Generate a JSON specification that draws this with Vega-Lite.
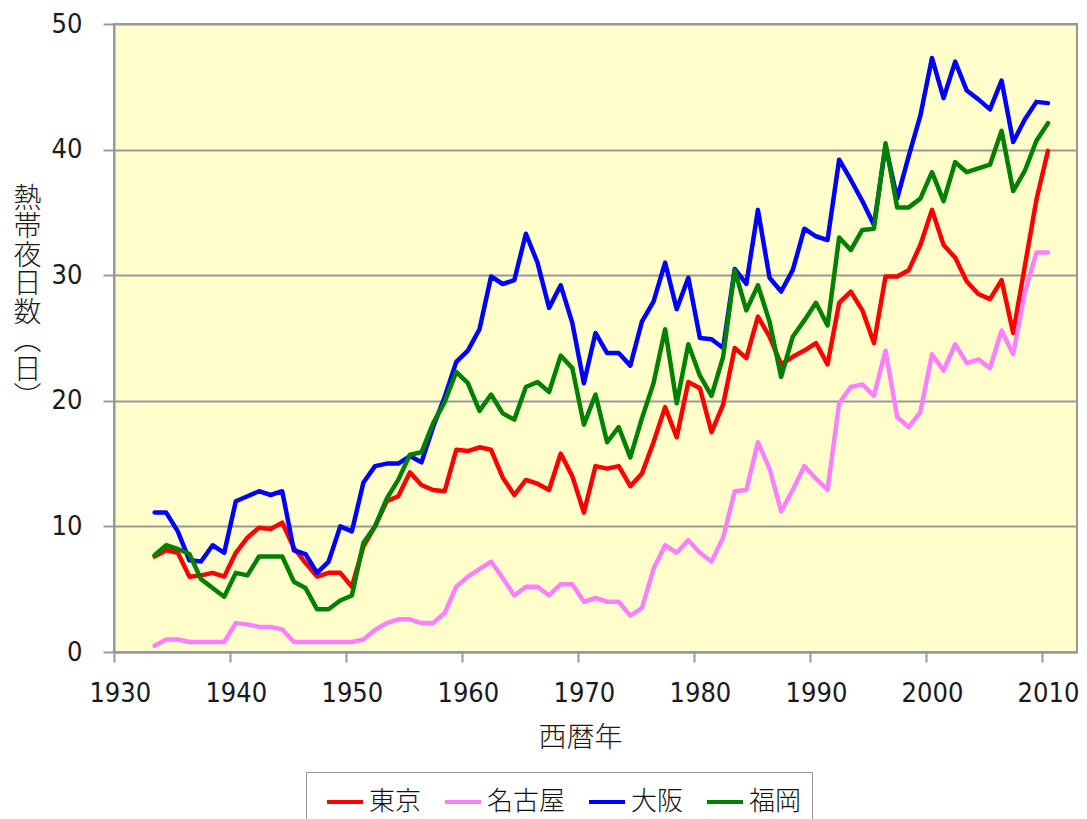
{
  "$schema": "https://vega.github.io/schema/vega-lite/v6.json",
  "width": 963,
  "height": 628,
  "autosize": {"type": "none"},
  "padding": {"left": 114, "top": 24, "right": 10, "bottom": 167},
  "background": "white",
  "data": {
    "values": [
      {"year": 1933, "東京": 7.6, "名古屋": 0.5, "大阪": 11.1, "福岡": 7.7},
      {"year": 1934, "東京": 8.1, "名古屋": 1.0, "大阪": 11.1, "福岡": 8.5},
      {"year": 1935, "東京": 7.9, "名古屋": 1.0, "大阪": 9.6, "福岡": 8.2},
      {"year": 1936, "東京": 6.0, "名古屋": 0.8, "大阪": 7.3, "福岡": 7.8},
      {"year": 1937, "東京": 6.1, "名古屋": 0.8, "大阪": 7.2, "福岡": 5.8},
      {"year": 1938, "東京": 6.3, "名古屋": 0.8, "大阪": 8.5, "福岡": 5.1},
      {"year": 1939, "東京": 6.0, "名古屋": 0.8, "大阪": 7.9, "福岡": 4.4},
      {"year": 1940, "東京": 7.9, "名古屋": 2.3, "大阪": 12.0, "福岡": 6.3},
      {"year": 1941, "東京": 9.1, "名古屋": 2.2, "大阪": 12.4, "福岡": 6.1},
      {"year": 1942, "東京": 9.9, "名古屋": 2.0, "大阪": 12.8, "福岡": 7.6},
      {"year": 1943, "東京": 9.8, "名古屋": 2.0, "大阪": 12.5, "福岡": 7.6},
      {"year": 1944, "東京": 10.3, "名古屋": 1.8, "大阪": 12.8, "福岡": 7.6},
      {"year": 1945, "東京": 8.3, "名古屋": 0.8, "大阪": 8.1, "福岡": 5.6},
      {"year": 1946, "東京": 7.1, "名古屋": 0.8, "大阪": 7.8, "福岡": 5.1},
      {"year": 1947, "東京": 6.0, "名古屋": 0.8, "大阪": 6.3, "福岡": 3.4},
      {"year": 1948, "東京": 6.3, "名古屋": 0.8, "大阪": 7.2, "福岡": 3.4},
      {"year": 1949, "東京": 6.3, "名古屋": 0.8, "大阪": 10.0, "福岡": 4.1},
      {"year": 1950, "東京": 5.2, "名古屋": 0.8, "大阪": 9.6, "福岡": 4.5},
      {"year": 1951, "東京": 8.4, "名古屋": 1.0, "大阪": 13.5, "福岡": 8.7},
      {"year": 1952, "東京": 10.0, "名古屋": 1.75, "大阪": 14.8, "福岡": 10.0},
      {"year": 1953, "東京": 12.0, "名古屋": 2.3, "大阪": 15.0, "福岡": 12.2},
      {"year": 1954, "東京": 12.4, "名古屋": 2.6, "大阪": 15.0, "福岡": 13.7},
      {"year": 1955, "東京": 14.3, "名古屋": 2.6, "大阪": 15.6, "福岡": 15.7},
      {"year": 1956, "東京": 13.3, "名古屋": 2.3, "大阪": 15.1, "福岡": 15.9},
      {"year": 1957, "東京": 12.9, "名古屋": 2.3, "大阪": 17.9, "福岡": 18.2},
      {"year": 1958, "東京": 12.8, "名古屋": 3.1, "大阪": 20.3, "福岡": 19.9},
      {"year": 1959, "東京": 16.1, "名古屋": 5.2, "大阪": 23.1, "福岡": 22.3},
      {"year": 1960, "東京": 16.0, "名古屋": 6.0, "大阪": 24.0, "福岡": 21.4},
      {"year": 1961, "東京": 16.3, "名古屋": 6.6, "大阪": 25.7, "福岡": 19.2},
      {"year": 1962, "東京": 16.1, "名古屋": 7.2, "大阪": 29.9, "福岡": 20.5},
      {"year": 1963, "東京": 13.9, "名古屋": 5.9, "大阪": 29.3, "福岡": 19.0},
      {"year": 1964, "東京": 12.5, "名古屋": 4.5, "大阪": 29.6, "福岡": 18.5},
      {"year": 1965, "東京": 13.7, "名古屋": 5.2, "大阪": 33.3, "福岡": 21.1},
      {"year": 1966, "東京": 13.4, "名古屋": 5.2, "大阪": 31.0, "福岡": 21.5},
      {"year": 1967, "東京": 12.9, "名古屋": 4.5, "大阪": 27.4, "福岡": 20.7},
      {"year": 1968, "東京": 15.8, "名古屋": 5.4, "大阪": 29.2, "福岡": 23.6},
      {"year": 1969, "東京": 14.0, "名古屋": 5.4, "大阪": 26.2, "福岡": 22.6},
      {"year": 1970, "東京": 11.1, "名古屋": 4.0, "大阪": 21.4, "福岡": 18.1},
      {"year": 1971, "東京": 14.8, "名古屋": 4.3, "大阪": 25.4, "福岡": 20.5},
      {"year": 1972, "東京": 14.6, "名古屋": 4.0, "大阪": 23.8, "福岡": 16.7},
      {"year": 1973, "東京": 14.8, "名古屋": 4.0, "大阪": 23.8, "福岡": 17.9},
      {"year": 1974, "東京": 13.2, "名古屋": 2.9, "大阪": 22.8, "福岡": 15.5},
      {"year": 1975, "東京": 14.2, "名古屋": 3.5, "大阪": 26.3, "福岡": 18.6},
      {"year": 1976, "東京": 16.7, "名古屋": 6.6, "大阪": 27.9, "福岡": 21.4},
      {"year": 1977, "東京": 19.5, "名古屋": 8.5, "大阪": 31.0, "福岡": 25.7},
      {"year": 1978, "東京": 17.1, "名古屋": 7.9, "大阪": 27.3, "福岡": 19.8},
      {"year": 1979, "東京": 21.5, "名古屋": 8.9, "大阪": 29.8, "福岡": 24.5},
      {"year": 1980, "東京": 21.0, "名古屋": 7.9, "大阪": 25.0, "福岡": 22.0},
      {"year": 1981, "東京": 17.5, "名古屋": 7.2, "大阪": 24.9, "福岡": 20.4},
      {"year": 1982, "東京": 19.7, "名古屋": 9.1, "大阪": 24.2, "福岡": 23.5},
      {"year": 1983, "東京": 24.2, "名古屋": 12.8, "大阪": 30.5, "福岡": 30.4},
      {"year": 1984, "東京": 23.4, "名古屋": 12.9, "大阪": 29.3, "福岡": 27.2},
      {"year": 1985, "東京": 26.7, "名古屋": 16.7, "大阪": 35.2, "福岡": 29.2},
      {"year": 1986, "東京": 25.1, "名古屋": 14.6, "大阪": 29.8, "福岡": 26.3},
      {"year": 1987, "東京": 22.9, "名古屋": 11.2, "大阪": 28.7, "福岡": 21.9},
      {"year": 1988, "東京": 23.5, "名古屋": 12.9, "大阪": 30.4, "福岡": 25.1},
      {"year": 1989, "東京": 24.0, "名古屋": 14.8, "大阪": 33.7, "福岡": 26.4},
      {"year": 1990, "東京": 24.6, "名古屋": 13.8, "大阪": 33.1, "福岡": 27.8},
      {"year": 1991, "東京": 22.9, "名古屋": 12.9, "大阪": 32.8, "福岡": 26.0},
      {"year": 1992, "東京": 27.8, "名古屋": 19.8, "大阪": 39.2, "福岡": 33.0},
      {"year": 1993, "東京": 28.7, "名古屋": 21.1, "大阪": 37.6, "福岡": 32.0},
      {"year": 1994, "東京": 27.2, "名古屋": 21.3, "大阪": 35.9, "福岡": 33.6},
      {"year": 1995, "東京": 24.6, "名古屋": 20.4, "大阪": 34.0, "福岡": 33.7},
      {"year": 1996, "東京": 29.9, "名古屋": 24.0, "大阪": 40.3, "福岡": 40.5},
      {"year": 1997, "東京": 29.9, "名古屋": 18.7, "大阪": 36.1, "福岡": 35.4},
      {"year": 1998, "東京": 30.4, "名古屋": 17.9, "大阪": 39.5, "福岡": 35.4},
      {"year": 1999, "東京": 32.4, "名古屋": 19.1, "大阪": 42.7, "福岡": 36.1},
      {"year": 2000, "東京": 35.2, "名古屋": 23.7, "大阪": 47.3, "福岡": 38.2},
      {"year": 2001, "東京": 32.4, "名古屋": 22.4, "大阪": 44.1, "福岡": 35.9},
      {"year": 2002, "東京": 31.4, "名古屋": 24.5, "大阪": 47.0, "福岡": 39.0},
      {"year": 2003, "東京": 29.5, "名古屋": 23.0, "大阪": 44.7, "福岡": 38.2},
      {"year": 2004, "東京": 28.5, "名古屋": 23.3, "大阪": 44.0, "福岡": 38.5},
      {"year": 2005, "東京": 28.1, "名古屋": 22.6, "大阪": 43.2, "福岡": 38.8},
      {"year": 2006, "東京": 29.6, "名古屋": 25.6, "大阪": 45.5, "福岡": 41.5},
      {"year": 2007, "東京": 25.4, "名古屋": 23.7, "大阪": 40.6, "福岡": 36.7},
      {"year": 2008, "東京": 30.7, "名古屋": 28.6, "大阪": 42.4, "福岡": 38.3},
      {"year": 2009, "東京": 36.0, "名古屋": 31.8, "大阪": 43.8, "福岡": 40.7},
      {"year": 2010, "東京": 39.9, "名古屋": 31.8, "大阪": 43.7, "福岡": 42.1}
    ]
  },
  "transform": [
    {"fold": ["東京", "名古屋", "大阪", "福岡"], "as": ["city", "days"]}
  ],
  "mark": {"type": "line", "strokeWidth": 4.5, "strokeJoin": "round", "strokeCap": "round"},
  "encoding": {
    "x": {
      "field": "year",
      "type": "quantitative",
      "scale": {"domain": [1929.5, 2012.5], "nice": false, "zero": false},
      "axis": {
        "values": [1930, 1940, 1950, 1960, 1970, 1980, 1990, 2000, 2010],
        "format": "d",
        "grid": false,
        "title": "西暦年",
        "tickOffset": -5.8,
        "labelOffset": 5.8,
        "tickSize": 10,
        "labelPadding": 18,
        "titleX": 466,
        "titleY": 72,
        "titleAlign": "center",
        "titleBaseline": "top"
      }
    },
    "y": {
      "field": "days",
      "type": "quantitative",
      "scale": {"domain": [0, 50], "nice": false},
      "axis": {
        "values": [0, 10, 20, 30, 40, 50],
        "grid": true,
        "tickSize": 11,
        "labelPadding": 21,
        "title": ["熱", "帯", "夜", "日", "数", "︵", "日", "︶"],
        "titleAngle": 0,
        "titleX": -87,
        "titleY": 161,
        "titleAlign": "center",
        "titleBaseline": "top",
        "titleLineHeight": 28.5
      }
    },
    "color": {
      "field": "city",
      "type": "nominal",
      "scale": {
        "domain": ["東京", "名古屋", "大阪", "福岡"],
        "range": ["#FF0000", "#FF80FF", "#0000FF", "#008000"]
      },
      "legend": {
        "orient": "none",
        "legendX": 192,
        "legendY": 748,
        "direction": "horizontal",
        "title": null,
        "strokeColor": "#999999",
        "padding": 10,
        "symbolOffset": 9,
        "symbolType": "stroke",
        "symbolSize": 1296,
        "symbolStrokeWidth": 4,
        "labelOffset": 4,
        "columnPadding": 12,
        "labelFont": "Noto Sans CJK JP",
        "labelFontSize": 26,
        "labelFontWeight": 300,
        "labelColor": "#111111"
      }
    }
  },
  "config": {
    "view": {"fill": "#FFFFCC", "stroke": "#999999", "strokeWidth": 2},
    "axis": {
      "domainColor": "#999999",
      "domainWidth": 2,
      "tickColor": "#999999",
      "tickWidth": 2,
      "gridColor": "#999999",
      "gridWidth": 2,
      "labelFont": "DejaVu Sans Condensed, DejaVu Sans",
      "labelFontSize": 27,
      "labelColor": "#1a1a1a",
      "titleFont": "Noto Sans CJK JP",
      "titleFontSize": 28,
      "titleFontWeight": 300,
      "titleColor": "#1a1a1a"
    }
  }
}
